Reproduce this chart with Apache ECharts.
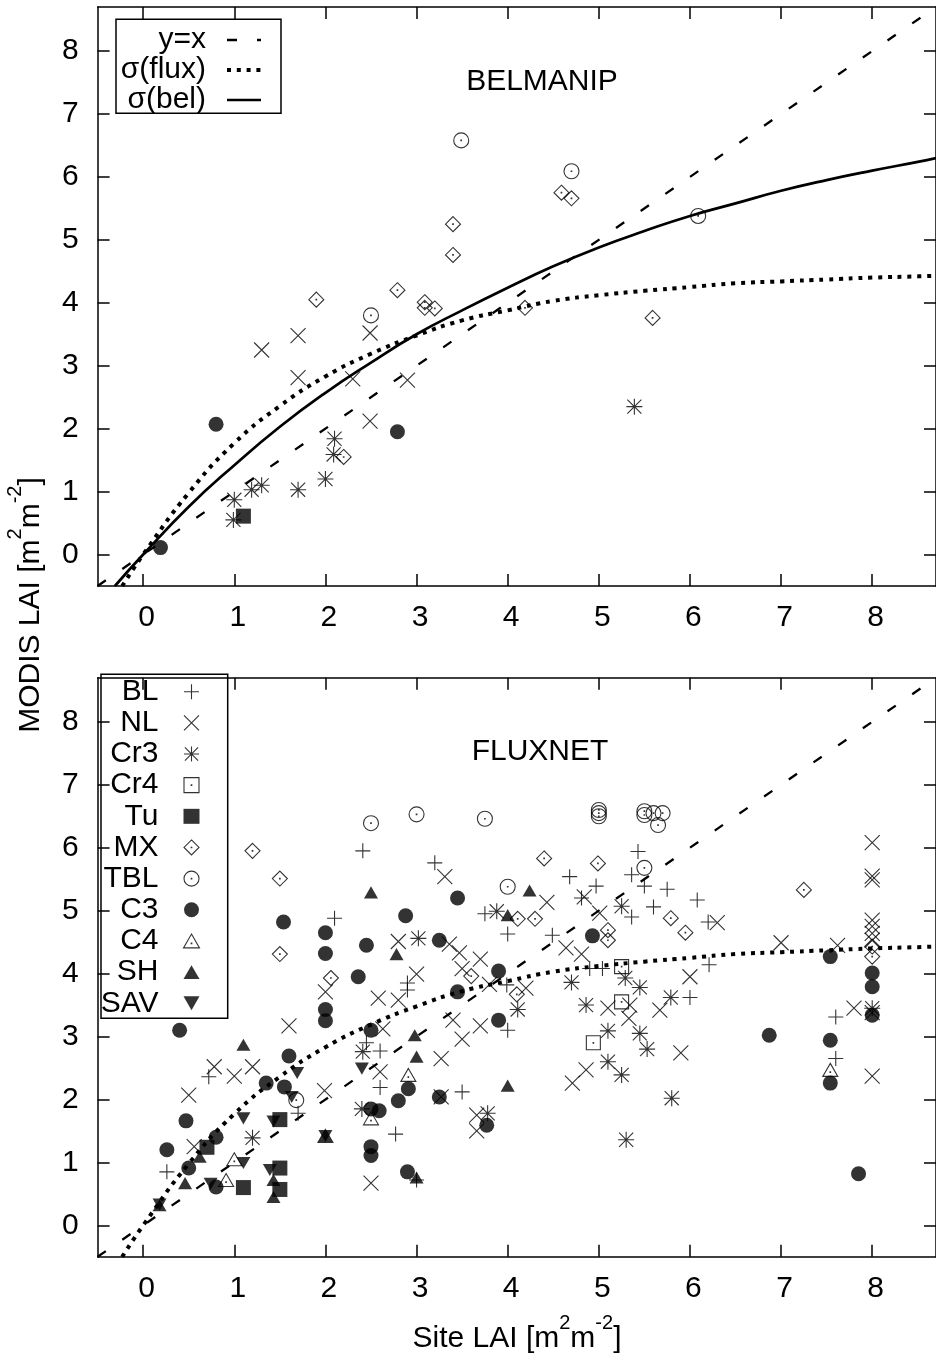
<!DOCTYPE html>
<html><head><meta charset="utf-8">
<script src="https://cdn.jsdelivr.net/npm/echarts@6/dist/echarts.min.js"></script>
<style>html,body{margin:0;padding:0;background:#fff}#c{width:936px;height:1354px}</style>
</head><body><div id="c"></div>
<script>
// ---------- data ----------
const xTicks = [0, 1, 2, 3, 4, 5, 6, 7, 8];
const yTicks = [0, 1, 2, 3, 4, 5, 6, 7, 8];
const identityLine = [[-0.5, -0.5], [8.7, 8.7]];
const fluxCurve = [[-0.23,-0.5],[0,0],[0.5,0.98],[1.0,1.77],[1.5,2.36],[2.0,2.83],[2.5,3.19],[3.0,3.48],[3.5,3.72],[4.0,3.88],[4.5,4.03],[5.0,4.12],[5.5,4.19],[6.0,4.25],[6.5,4.31],[7.0,4.34],[7.5,4.37],[8.0,4.40],[8.5,4.42],[8.7,4.43]];
const belCurve = [[-0.31,-0.5],[0,0],[0.5,0.76],[1.0,1.42],[1.5,2.03],[2.0,2.57],[2.5,3.05],[3.0,3.50],[3.5,3.88],[4.0,4.24],[4.5,4.58],[5.0,4.88],[5.5,5.14],[6.0,5.38],[6.5,5.58],[7.0,5.78],[7.5,5.95],[8.0,6.10],[8.5,6.24],[8.7,6.30]];

// BELMANIP panel
const belNL = [[1.30,3.25],[1.70,3.48],[1.70,2.81],[2.49,3.52],[2.30,2.79],[2.49,2.12],[2.90,2.77]];
const belCr3 = [[0.99,0.55],[1.00,0.87],[1.19,1.03],[1.30,1.10],[1.70,1.03],[2.00,1.20],[2.10,1.84],[2.09,1.59],[5.39,2.35]];
const belTu = [[1.10,0.61]];
const belMX = [[2.20,1.55],[1.90,4.05],[2.79,4.20],[3.09,4.01],[3.09,3.92],[3.20,3.91],[3.40,5.25],[3.40,4.76],[4.59,5.75],[4.70,5.66],[4.19,3.92],[5.59,3.76]];
const belTBL = [[2.50,3.80],[3.49,6.58],[4.70,6.09],[6.09,5.38]];
const belC3 = [[0.19,0.11],[0.80,2.07],[2.79,1.95]];

// FLUXNET panel
const fluxBL = [[2.41,5.95],[2.10,4.88],[0.72,2.36],[1.70,1.78],[0.26,0.85],[3.20,5.76],[4.68,5.54],[4.81,5.20],[4.97,5.39],[3.75,4.95],[4.00,4.63],[4.49,4.61],[3.99,3.82],[2.90,3.85],[2.90,3.74],[4.90,4.08],[2.45,2.90],[2.60,2.77],[2.60,2.19],[3.50,2.12],[2.77,1.45],[4.00,3.10],[3.00,0.72],[5.43,5.94],[5.36,5.57],[5.50,5.39],[5.75,5.34],[6.08,5.17],[5.36,4.90],[5.60,5.06],[6.20,4.82],[6.21,4.14],[5.04,4.08],[6.00,3.62],[7.60,3.31],[7.60,2.65]];
const fluxNL = [[2.00,3.71],[1.60,3.17],[0.78,2.52],[1.00,2.37],[1.20,2.52],[0.50,2.07],[1.99,2.14],[0.56,1.25],[3.31,5.54],[4.84,5.22],[4.43,5.13],[4.64,4.41],[4.81,4.31],[2.80,4.51],[3.36,4.47],[3.47,4.33],[3.70,4.23],[3.50,4.08],[3.80,3.83],[4.20,3.77],[3.00,3.99],[2.58,3.61],[2.80,3.58],[2.63,3.12],[2.60,2.44],[3.27,2.04],[3.27,2.65],[3.40,3.26],[3.70,3.17],[3.50,2.96],[3.66,1.75],[3.66,1.50],[2.50,0.67],[4.86,2.47],[4.71,2.26],[6.30,4.81],[5.01,4.96],[8.00,6.08],[8.00,5.55],[8.00,5.49],[8.00,4.85],[8.00,4.75],[8.00,4.64],[8.00,4.53],[7.00,4.49],[7.62,4.45],[6.00,3.95],[5.34,3.50],[5.10,3.45],[5.67,3.42],[7.80,3.45],[5.33,3.29],[5.90,2.74],[8.00,2.37],[8.00,3.38]];
const fluxCr3 = [[1.20,1.39],[3.02,4.56],[3.88,4.99],[4.11,3.43],[4.70,3.86],[4.86,3.50],[2.41,2.76],[2.40,1.85],[3.78,1.78],[5.25,5.07],[5.29,3.93],[5.45,3.78],[5.79,3.62],[8.00,3.45],[5.10,3.09],[5.45,3.05],[5.53,2.80],[5.10,2.60],[5.25,2.39],[5.80,2.02],[5.30,1.36]];
const fluxCr4 = [[4.94,2.90],[5.25,4.11],[5.25,3.55]];
const fluxTu = [[1.50,1.68],[0.70,1.24],[1.50,0.91],[1.10,0.60],[1.50,0.57]];
const fluxMX = [[1.20,5.95],[1.50,5.51],[1.50,4.31],[2.06,3.93],[4.40,5.83],[4.99,5.75],[4.11,4.87],[4.30,4.87],[3.60,3.96],[4.10,3.67],[5.79,4.88],[5.95,4.65],[5.10,4.69],[5.10,4.53],[7.25,5.33],[8.00,4.43],[8.00,4.27]];
const fluxTBL = [[2.50,6.39],[3.00,6.53],[3.75,6.46],[4.00,5.38],[1.68,1.99],[5.00,6.50],[5.00,6.55],[5.00,6.60],[5.50,6.52],[5.50,6.58],[5.60,6.55],[5.70,6.55],[5.65,6.36],[5.50,5.68]];
const fluxC3 = [[1.54,4.82],[2.00,4.65],[2.45,4.45],[2.00,4.32],[2.00,3.43],[2.00,3.25],[0.40,3.10],[1.60,2.69],[1.35,2.26],[1.55,2.20],[0.47,1.66],[0.80,1.40],[0.26,1.20],[0.50,0.91],[0.80,0.61],[3.45,5.20],[2.88,4.92],[3.25,4.53],[3.90,4.04],[2.36,3.95],[3.45,3.71],[4.93,4.60],[2.50,3.10],[2.91,2.17],[2.80,1.98],[3.25,2.04],[2.50,1.85],[2.59,1.82],[3.90,3.26],[3.77,1.59],[2.50,1.25],[2.50,1.11],[2.90,0.85],[7.54,4.27],[8.00,4.01],[8.00,3.79],[8.00,3.34],[6.87,3.02],[7.54,2.94],[7.54,2.26],[7.85,0.82]];
const fluxC4 = [[1.00,1.05],[0.91,0.72],[2.91,2.39],[2.50,1.70],[7.54,2.47],[2.00,1.42]];
const fluxSH = [[2.50,5.29],[1.10,2.87],[0.62,1.09],[0.46,0.67],[1.43,0.72],[1.43,0.45],[0.18,0.32],[2.00,1.42],[4.24,5.32],[4.00,4.93],[2.78,4.31],[2.98,3.02],[3.00,2.68],[4.00,2.22],[3.00,0.76]];
const fluxSAV = [[1.69,2.42],[1.63,2.04],[1.10,1.70],[1.43,1.65],[1.10,0.99],[1.39,0.88],[0.74,0.66],[0.18,0.33],[2.00,1.42],[2.40,2.49]];

const legendNames = ['BL','NL','Cr3','Cr4','Tu','MX','TBL','C3','C4','SH','SAV'];
const lineNames = ['y=x','σ(flux)','σ(bel)'];

// ---------- styles ----------
const FONT = '"Liberation Sans", Arial, Helvetica, sans-serif';
const FS = 30;
const DOT = 'M4.8,4.8L5.2,4.8L5.2,5.2L4.8,5.2Z';
const SYM = {
  BL:  {symbol:'path://M5,0L5,10M0,5L10,5', size:15, fill:false},
  NL:  {symbol:'path://M0,0L10,10M0,10L10,0', size:15, fill:false},
  Cr3: {symbol:'path://M5,0L5,10M0,5L10,5M0.6,0.6L9.4,9.4M0.6,9.4L9.4,0.6', size:16, fill:false},
  Cr4: {symbol:'path://M0,0L10,0L10,10L0,10Z' + DOT, size:14, fill:false},
  Tu:  {symbol:'rect', size:15, fill:true},
  MX:  {symbol:'path://M5,0L10,5L5,10L0,5Z' + DOT, size:15, fill:false},
  TBL: {symbol:'path://M10,5A5,5,0,1,1,0,5A5,5,0,1,1,10,5Z' + DOT, size:15, fill:false},
  C3:  {symbol:'circle', size:15, fill:true},
  C4:  {symbol:'path://M5,0L10,8.66L0,8.66Z M4.8,5.6L5.2,5.6L5.2,6L4.8,6Z', size:15, fill:false},
  SH:  {symbol:'path://M5,0L10,8.66L0,8.66Z', size:14, fill:true},
  SAV: {symbol:'path://M0,0L10,0L5,8.66Z', size:14, fill:true}
};

function scat(name, key, data, axisIdx) {
  const s = SYM[key];
  return {
    type:'scatter', name, data, xAxisIndex:axisIdx, yAxisIndex:axisIdx,
    symbol:s.symbol, symbolSize:s.size, symbolKeepAspect:true, silent:true, z:3,
    itemStyle: s.fill ? {color:'#000', borderWidth:0} : {color:'none', borderColor:'#000', borderWidth:1.1}
  };
}
function line(name, data, axisIdx, ls) {
  return {
    type:'line', name, data, xAxisIndex:axisIdx, yAxisIndex:axisIdx, symbol:'none', showSymbol:false,
    smooth: ls.smooth ? 0.5 : false, silent:true, z:4, clip:true,
    itemStyle:{color:'rgba(0,0,0,0)', borderColor:'rgba(0,0,0,0)', borderWidth:0},
    lineStyle:{color:'#000', width:ls.width, type:ls.type, cap:'butt'}
  };
}
function xAx(gridIndex, pos, labels) {
  return {type:'value', gridIndex, position:pos, min:-0.5, max:8.7,
    axisLine:{show:true, onZero:false, lineStyle:{color:'#000', width:1.5}},
    axisTick:{show:true, inside:true, length:12, customValues:xTicks, lineStyle:{color:'#000', width:1.5}},
    axisLabel:{show:labels, customValues:xTicks, margin:17, fontSize:FS, color:'#000', fontFamily:FONT, padding:[0,0,0,7]},
    splitLine:{show:false}};
}
function yAx(gridIndex, pos, labels) {
  return {type:'value', gridIndex, position:pos, min:-0.5, max:8.7,
    axisLine:{show:true, onZero:false, lineStyle:{color:'#000', width:1.5}},
    axisTick:{show:true, inside:true, length:12, customValues:yTicks, lineStyle:{color:'#000', width:1.5}},
    axisLabel:{show:labels, customValues:yTicks, margin:19, fontSize:FS, color:'#000', fontFamily:FONT},
    splitLine:{show:false}};
}

const dashed = {width:2.3, type:[10,20]};
const dotted = {width:4, type:[4,5.8], smooth:true};
const solid = {width:2.7, type:'solid', smooth:true};

const series = [
  line(lineNames[0], identityLine, 0, dashed),
  line(lineNames[1], fluxCurve, 0, dotted),
  line(lineNames[2], belCurve, 0, solid),
  scat('b-NL','NL',belNL,0), scat('b-Cr3','Cr3',belCr3,0), scat('b-Tu','Tu',belTu,0),
  scat('b-MX','MX',belMX,0), scat('b-TBL','TBL',belTBL,0), scat('b-C3','C3',belC3,0),
  line('y=x (2)', identityLine, 2, dashed),
  line('flux (2)', fluxCurve, 2, dotted),
  scat('BL','BL',fluxBL,2), scat('NL','NL',fluxNL,2), scat('Cr3','Cr3',fluxCr3,2),
  scat('Cr4','Cr4',fluxCr4,2), scat('Tu','Tu',fluxTu,2), scat('MX','MX',fluxMX,2),
  scat('TBL','TBL',fluxTBL,2), scat('C3','C3',fluxC3,2), scat('C4','C4',fluxC4,2),
  scat('SH','SH',fluxSH,2), scat('SAV','SAV',fluxSAV,2)
];

const supRich = {
  n: {fontSize:FS, fontFamily:FONT, fill:'#000', color:'#000', lineHeight:FS, verticalAlign:'bottom'},
  s: {fontSize:20, fontFamily:FONT, fill:'#000', color:'#000', lineHeight:20, verticalAlign:'bottom', padding:[0,0,21,0]}
};

const chart = echarts.init(document.getElementById('c'), null, {renderer:'canvas'});
chart.setOption({
  animation:false,
  backgroundColor:'#fff',
  grid:[
    {left:97.6, top:7, width:840, height:579},
    {left:97.6, top:677.8, width:840, height:579}
  ],
  xAxis:[xAx(0,'bottom',true), xAx(0,'top',false), xAx(1,'bottom',true), xAx(1,'top',false)],
  yAxis:[yAx(0,'left',true), yAx(0,'right',false), yAx(1,'left',true), yAx(1,'right',false)],
  legend:[
    {orient:'vertical', align:'right', right:673, top:25, itemWidth:34, itemHeight:10, itemGap:0, padding:0,
     selectedMode:false, data:lineNames,
     textStyle:{fontSize:FS, color:'#000', fontFamily:FONT, lineHeight:28.7, padding:[0,16,0,0]},
     lineStyle:{width:'inherit'}, itemStyle:{borderWidth:'inherit'}},
    {orient:'vertical', align:'right', right:734, top:676.1, itemWidth:16, itemHeight:15, itemGap:0, padding:0,
     selectedMode:false, data:legendNames,
     textStyle:{fontSize:FS, color:'#000', fontFamily:FONT, lineHeight:31.16, padding:[0,20,0,0]},
     itemStyle:{borderWidth:'inherit'}}
  ],
  graphic:[
    {type:'rect', silent:true, z:100, shape:{x:116, y:19.3, width:165, height:94}, style:{fill:'none', stroke:'#000', lineWidth:1.5}},
    {type:'rect', silent:true, z:100, shape:{x:101, y:674.3, width:126.7, height:344}, style:{fill:'none', stroke:'#000', lineWidth:1.5}},
    {type:'text', silent:true, z:100, x:542, y:82, style:{text:'BELMANIP', fontSize:FS, fontFamily:FONT, fill:'#000', align:'center', verticalAlign:'middle'}},
    {type:'text', silent:true, z:100, x:540, y:752, style:{text:'FLUXNET', fontSize:FS, fontFamily:FONT, fill:'#000', align:'center', verticalAlign:'middle'}},
    {type:'text', silent:true, z:100, x:517, y:1339, style:{text:'{n|Site LAI [m}{s|2}{n|m}{s|-2}{n|]}', rich:supRich, fontSize:FS, fontFamily:FONT, fill:'#000', align:'center', verticalAlign:'middle'}},
    {type:'text', silent:true, z:100, x:31, y:605, rotation:Math.PI/2, style:{text:'{n|MODIS LAI [m}{s|2}{n|m}{s|-2}{n|]}', rich:supRich, fontSize:FS, fontFamily:FONT, fill:'#000', align:'center', verticalAlign:'middle'}}
  ],
  series
});
</script></body></html>
